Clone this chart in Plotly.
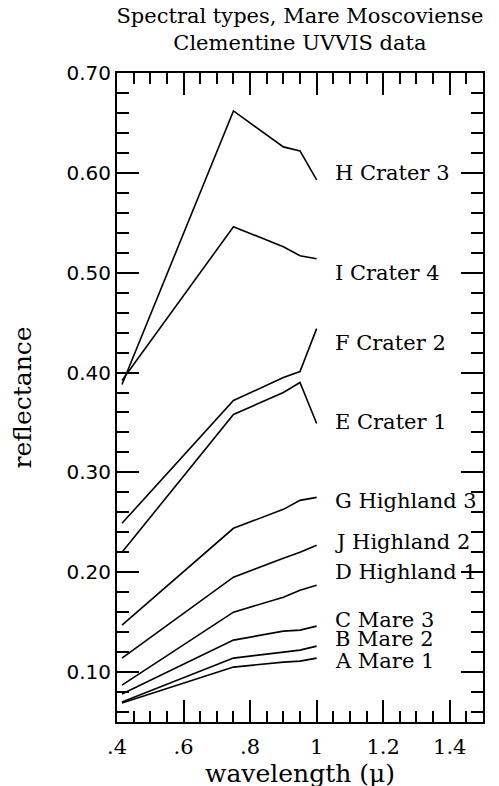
import plotly.graph_objects as go

wavelength = [0.415, 0.75, 0.9, 0.95, 1.0]

series_names = ["H Crater 3", "I Crater 4", "F Crater 2", "E Crater 1",
                "G Highland 3", "J Highland 2", "D Highland 1",
                "C Mare 3", "B Mare 2", "A Mare 1"]

H_crater3 = [0.388, 0.662, 0.626, 0.622, 0.593]
I_crater4 = [0.392, 0.546, 0.526, 0.517, 0.514]
F_crater2 = [0.249, 0.372, 0.395, 0.401, 0.444]
E_crater1 = [0.220, 0.358, 0.380, 0.390, 0.349]
G_highland3 = [0.147, 0.244, 0.263, 0.272, 0.275]
J_highland2 = [0.114, 0.195, 0.214, 0.220, 0.227]
D_highland1 = [0.087, 0.160, 0.175, 0.182, 0.187]
C_mare3 = [0.078, 0.132, 0.141, 0.142, 0.146]
B_mare2 = [0.070, 0.114, 0.120, 0.122, 0.126]
A_mare1 = [0.069, 0.105, 0.110, 0.111, 0.114]

label_y = [0.600, 0.500, 0.430, 0.350, 0.271, 0.230, 0.200, 0.152, 0.133, 0.111]
label_x = 1.05

x_tickvals = [0.4, 0.6, 0.8, 1.0, 1.2, 1.4]
x_ticktext = [".4", ".6", ".8", "1", "1.2", "1.4"]

all_series = [H_crater3, I_crater4, F_crater2, E_crater1, G_highland3,
              J_highland2, D_highland1, C_mare3, B_mare2, A_mare1]

SERIF = "DejaVu Serif"

fig = go.Figure()
for name, ys in zip(series_names, all_series):
    fig.add_trace(go.Scatter(x=wavelength, y=ys, mode="lines", name=name,
                             line=dict(color="black", width=1.6),
                             showlegend=False))

for name, ly in zip(series_names, label_y):
    fig.add_annotation(x=label_x, y=ly, text=name, showarrow=False,
                       xanchor="left", yanchor="middle",
                       font=dict(family=SERIF, size=21, color="black"))

# the page body adds an 8px offset; margins compensate for it
fig.update_layout(
    width=499, height=786,
    margin=dict(l=109, r=24, t=65, b=72, autoexpand=False),
    paper_bgcolor="white", plot_bgcolor="white",
    title=dict(text="Spectral types, Mare Moscoviense<br>Clementine UVVIS data",
               xref="container", yref="container",
               x=0.585, xanchor="center", y=1 - 15 / 786, yanchor="middle",
               font=dict(family=SERIF, size=21, color="black")),
)

fig.update_xaxes(
    range=[0.4, 1.5], showgrid=False, zeroline=False, automargin=False,
    showline=True, linecolor="black", linewidth=2, mirror="allticks",
    ticks="inside", ticklen=22, tickwidth=1.5, tickcolor="black",
    tickvals=x_tickvals, ticktext=x_ticktext, ticklabelstandoff=5,
    tickfont=dict(family=SERIF, size=21, color="black"),
    minor=dict(dtick=0.05, tick0=0.4, ticks="inside", ticklen=11, tickwidth=1.5,
               tickcolor="black", showgrid=False),
    title=dict(text="wavelength (\u03bc)", standoff=0,
               font=dict(family=SERIF, size=25, color="black")),
)

fig.update_yaxes(
    range=[0.05, 0.70], showgrid=False, zeroline=False, automargin=False,
    showline=True, linecolor="black", linewidth=2, mirror="allticks",
    ticks="inside", ticklen=22, tickwidth=1.5, tickcolor="black",
    dtick=0.1, tick0=0, tickformat=".2f",
    tickfont=dict(family="DejaVu Sans", size=20, color="black"),
    minor=dict(dtick=0.02, tick0=0, ticks="inside", ticklen=12, tickwidth=1.5,
               tickcolor="black", showgrid=False),
    title=dict(text="reflectance", standoff=33,
               font=dict(family=SERIF, size=25, color="black")),
)

fig.write_html("out.html")
